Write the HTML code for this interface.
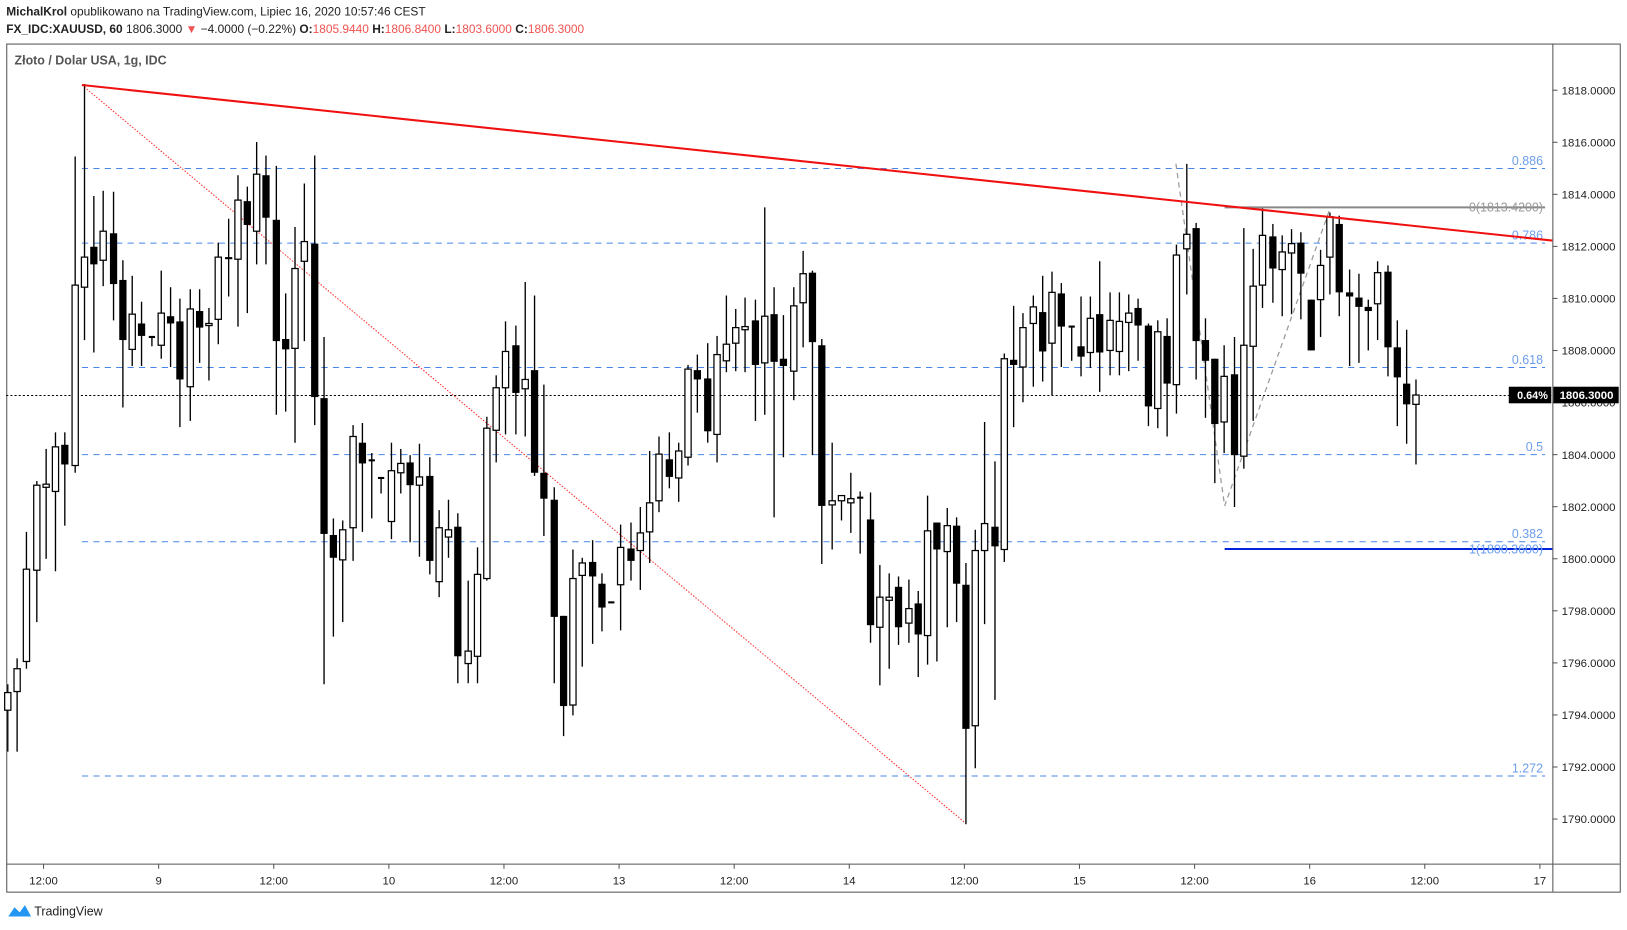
<!DOCTYPE html>
<html><head><meta charset="utf-8"><style>
html,body{margin:0;padding:0;background:#fff;width:1627px;height:930px;overflow:hidden;font-family:"Liberation Sans",sans-serif}
svg{position:absolute;left:0;top:0}
</style></head><body>
<svg id="s" width="1627" height="930" viewBox="0 0 1569 897" preserveAspectRatio="none" xmlns="http://www.w3.org/2000/svg" font-family="Liberation Sans, sans-serif">
<text x="6" y="15" font-size="11.5" fill="#222"><tspan font-weight="bold">MichalKrol</tspan> opublikowano na TradingView.com, Lipiec 16, 2020 10:57:46 CEST</text>
<text x="6" y="32" font-size="11.5" fill="#222"><tspan font-weight="bold">FX_IDC:XAUUSD, 60</tspan> 1806.3000 <tspan fill="#ef5350">▼</tspan> −4.0000 (−0.22%) <tspan font-weight="bold">O:</tspan><tspan fill="#ef5350">1805.9440</tspan> <tspan font-weight="bold">H:</tspan><tspan fill="#ef5350">1806.8400</tspan> <tspan font-weight="bold">L:</tspan><tspan fill="#ef5350">1803.6000</tspan> <tspan font-weight="bold">C:</tspan><tspan fill="#ef5350">1806.3000</tspan></text>
<rect x="6.5" y="42.5" width="1556" height="818" fill="none" stroke="#555" stroke-width="1"/>
<line x1="6" y1="833.5" x2="1562" y2="833.5" stroke="#555"/>
<line x1="1497.5" y1="42" x2="1497.5" y2="860" stroke="#555"/>
<text x="14" y="62" font-size="12" fill="#555" font-weight="bold">Złoto / Dolar USA, 1g, IDC</text>
<g id="g"></g>
<g font-size="11" fill="#222" id="ax"></g>
</svg>
<script>
var g=document.getElementById('g'),ax=document.getElementById('ax'),NS='http://www.w3.org/2000/svg';
function el(p,t,a,txt){var e=document.createElementNS(NS,t);for(var k in a)e.setAttribute(k,a[k]);if(txt)e.textContent=txt;p.appendChild(e);return e;}
var fibs=[[162,'0.886'],[234,'0.786'],[354,'0.618'],[438,'0.5'],[522,'0.382'],[748,'1.272']];
fibs.forEach(function(f){el(g,'line',{x1:79,y1:f[0]+.5,x2:1490,y2:f[0]+.5,stroke:'#4a86e8','stroke-dasharray':'6 5','stroke-width':1});
el(g,'text',{x:1488,y:f[0]-3,'font-size':12,fill:'#6d9eeb','text-anchor':'end'},f[1]);});
el(g,'line',{x1:6,y1:381.5,x2:1497,y2:381.5,stroke:'#000','stroke-dasharray':'2 2'});
el(g,'line',{x1:79,y1:82,x2:930,y2:793,stroke:'#ff3030','stroke-dasharray':'1.5 1.5','stroke-width':1});
el(g,'polyline',{points:'1134,158 1181,488 1283,200',fill:'none',stroke:'#999','stroke-dasharray':'5 4','stroke-width':1.2});
el(g,'line',{x1:1181,y1:200,x2:1490,y2:200,stroke:'#888','stroke-width':2});
el(g,'text',{x:1488,y:204,'font-size':12,fill:'#999','text-anchor':'end'},'0(1813.4200)');
el(g,'line',{x1:1181,y1:529.5,x2:1497,y2:529.5,stroke:'#0022dd','stroke-width':2});
el(g,'text',{x:1488,y:534,'font-size':12,fill:'#6d9eeb','text-anchor':'end'},'1(1800.3600)');
var d=[[685,668,660,725],[667,645,635,725],[638,549,513,645],[550,468,464,600],[470,467,433,539],[474,431,417,551],[429,448,417,507],[449,275,151,456],[277,248,81,328],[238,255,189,340],
[251,223,184,276],[225,274,185,309],[270,328,251,393],[337,303,266,353],[312,324,291,353],[325,325,325,334],[333,302,261,346],[305,312,277,354],[310,366,288,412],[373,298,279,406],
[300,316,279,350],[314,312,297,367],[308,248,234,332],[248,250,211,286],[250,193,169,315],[194,217,180,302],[223,168,137,255],[169,210,150,255],[212,329,160,400],[327,337,283,397],
[336,259,219,427],[252,233,177,329],[235,383,150,410],[384,515,325,660],[516,538,500,614],[540,511,502,600],[509,421,410,541],[427,447,408,513],[444,444,437,500],[461,461,461,476],
[503,454,427,520],[456,447,433,476],[446,468,439,523],[468,460,428,537],[459,541,441,554],[561,509,492,576],[518,511,482,538],[508,633,495,659],[640,628,560,659],[633,554,528,659],
[558,413,402,560],[415,374,362,446],[374,339,310,419],[333,379,314,419],[375,366,272,421],[357,456,285,459],[456,481,371,517],[482,595,470,659],[594,681,594,710],[680,558,530,690],
[555,543,538,643],[542,556,521,621],[563,586,553,609],[581,581,581,581],[564,528,506,608],[529,541,504,560],[531,514,489,569],[513,485,435,543],[483,438,421,494],[443,460,417,471],
[461,435,427,484],[441,356,352,449],[357,366,342,398],[365,416,331,427],[419,342,324,446],[348,332,285,359],[331,316,298,358],[318,315,287,359],[309,352,289,406],[350,305,200,400],
[303,349,277,499],[346,353,304,441],[358,295,277,386],[292,264,242,335],[263,330,261,439],[333,488,327,544],[487,483,427,530],[483,478,478,502],[485,481,456,514],[480,480,474,534],
[501,603,475,620],[605,576,545,661],[579,576,553,645],[566,605,556,622],[601,587,559,620],[582,612,570,653],[613,512,478,641],[504,530,504,638],[532,507,490,605],[507,563,499,600],
[564,703,543,795],[700,531,511,741],[531,505,407,602],[508,527,445,675],[530,346,341,542],[347,352,295,412],[354,316,302,388],[312,296,285,373],[301,339,266,368],[331,282,262,381],
[283,315,273,354],[315,315,315,348],[334,344,286,363],[340,307,286,355],[303,340,252,378],[338,309,282,362],[339,310,282,362],[311,302,284,358],[297,314,288,348],[314,392,312,411],
[394,320,309,413],[324,370,307,421],[371,246,236,399],[240,226,158,284],[220,329,215,366],[328,348,307,403],[346,409,346,466],[407,363,333,437],[361,439,325,489],[440,333,220,452],
[334,276,240,406],[275,227,201,297],[228,259,216,292],[260,243,227,305],[244,235,221,303],[234,264,224,308],[289,338,289,338],[289,256,241,325],[248,209,205,284],[216,282,208,305],
[282,286,260,353],[287,296,264,350],[296,300,289,338],[293,263,252,328],[262,335,256,363],[335,364,309,411],[370,390,318,428],[390,381,366,448]];
d.forEach(function(c,i){var x=Math.round(7+9.24*i)+.5;var o=c[0],cl=c[1],h=c[2],l=c[3];
el(g,'line',{x1:x,y1:h,x2:x,y2:l,stroke:'#000','stroke-width':1.3});
var top=Math.min(o,cl),bot=Math.max(o,cl);
if(bot-top<2){el(g,'rect',{x:x-3,y:top-1,width:6,height:2,fill:'#000'});}
else if(cl<o)el(g,'rect',{x:x-3,y:top,width:6,height:bot-top,fill:'#fff',stroke:'#000','stroke-width':1.2});
else el(g,'rect',{x:x-3.5,y:top,width:7,height:bot-top,fill:'#000'});});
el(g,'line',{x1:79,y1:82,x2:1497,y2:232,stroke:'#f01010','stroke-width':2});
for(var p=1818;p>=1790;p-=2){var y=87+(1818-p)*25.107;el(ax,'line',{x1:1497,y1:y,x2:1502,y2:y,stroke:'#555'});
el(ax,'text',{x:1506,y:y+4},p.toFixed(4));}
el(ax,'rect',{x:1455,y:373,width:41,height:16,fill:'#000'});
el(ax,'text',{x:1463,y:385,fill:'#fff','font-weight':'bold','font-size':10.5},'0.64%');
el(ax,'rect',{x:1498,y:373,width:63,height:16,fill:'#000'});
el(ax,'text',{x:1504,y:385,fill:'#fff','font-weight':'bold'},'1806.3000');
var tl=[[42,'12:00'],[153,'9'],[264,'12:00'],[375,'10'],[486,'12:00'],[597,'13'],[708,'12:00'],[819,'14'],[930,'12:00'],[1041,'15'],[1152,'12:00'],[1263,'16'],[1374,'12:00'],[1485,'17']];
tl.forEach(function(t){el(ax,'line',{x1:t[0],y1:833,x2:t[0],y2:838,stroke:'#555'});el(ax,'text',{x:t[0],y:853,'text-anchor':'middle'},t[1]);});
el(ax,'path',{d:'M8 884 L14 875 L19 880 L24 873 L30 884 Z',fill:'#2196f3'});
el(ax,'text',{x:33,y:883,'font-size':12,fill:'#222'},'TradingView');
</script>
</body></html>
